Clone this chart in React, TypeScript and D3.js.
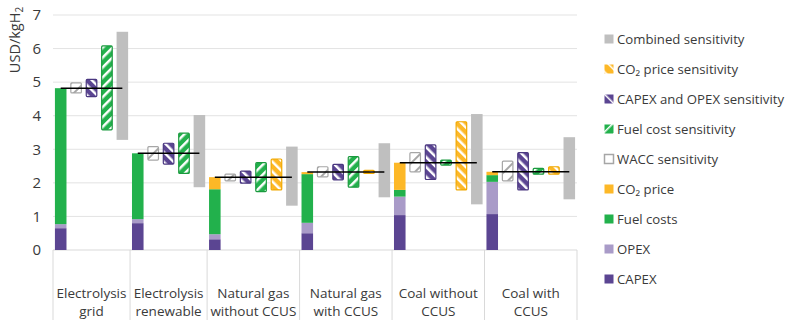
import React from "react";
import * as d3 from "d3";

const categories = ["Electrolysis grid", "Electrolysis renewable", "Natural gas without CCUS", "Natural gas with CCUS", "Coal without CCUS", "Coal with CCUS"];
const categoryLines = [["Electrolysis", "grid"], ["Electrolysis", "renewable"], ["Natural gas", "without CCUS"], ["Natural gas", "with CCUS"], ["Coal without", "CCUS"], ["Coal with", "CCUS"]];

const capex = [0.65, 0.80, 0.32, 0.50, 1.04, 1.07];
const opex = [0.12, 0.12, 0.15, 0.31, 0.55, 0.96];
const fuelCosts = [4.05, 1.96, 1.34, 1.45, 0.20, 0.20];
const co2Price = [0, 0, 0.36, 0.06, 0.81, 0.10];

const waccSens: [number, number][] = [[4.68, 4.98], [2.68, 3.08], [2.06, 2.26], [2.18, 2.48], [2.33, 2.90], [2.06, 2.65]];
const capexOpexSens: [number, number][] = [[4.57, 5.08], [2.56, 3.18], [1.99, 2.35], [2.09, 2.55], [2.10, 3.13], [1.79, 2.90]];
const fuelSens: [number, number][] = [[3.58, 6.08], [2.28, 3.48], [1.74, 2.60], [1.87, 2.78], [2.53, 2.68], [2.26, 2.43]];
const co2Sens: ([number, number] | null)[] = [null, null, [1.79, 2.71], [2.28, 2.37], [1.79, 3.82], [2.26, 2.48]];
const combinedSens: [number, number][] = [[3.28, 6.50], [1.87, 4.02], [1.32, 3.08], [1.57, 3.18], [1.36, 4.05], [1.51, 3.36]];

const yTicks = [0, 1, 2, 3, 4, 5, 6, 7];

const C = {
  capex: "#5B4592",
  opex: "#A99BC8",
  fuel: "#22B14C",
  co2: "#FDB827",
  grey: "#BFBFBF",
  text: "#3A3A3A",
  grid: "#E3E3E3",
};

const FONT = "'Open Sans', 'Noto Sans', sans-serif";

type Slot = { id: string; cat: number; kind: string };

export default function App() {
  const W = 800, H = 330;
  const x0 = 53, x1 = 577;
  const y = d3.scaleLinear().domain([0, 7]).range([250, 15]);

  const slots: Slot[] = [];
  categories.forEach((c, i) => {
    const kinds = ["stack", "wacc", "capexopex", "fuel"];
    if (co2Sens[i]) kinds.push("co2");
    kinds.push("combined");
    kinds.forEach((k) => slots.push({ id: `${i}-${k}`, cat: i, kind: k }));
  });

  const x = d3.scaleBand<string>().domain(slots.map((s) => s.id)).range([x0, x1]).paddingInner(0.25).paddingOuter(0.125);
  const bw = x.bandwidth();
  const step = x.step();

  const catBounds = categories.map((_, i) => {
    const ss = slots.filter((s) => s.cat === i);
    const a = (x(ss[0].id) as number) - step * 0.125;
    const b = (x(ss[ss.length - 1].id) as number) + bw + step * 0.125;
    return [a, b];
  });

  const sensStyle: Record<string, { fill: string; stroke: string }> = {
    wacc: { fill: "url(#hWacc)", stroke: "#A6A6A6" },
    capexopex: { fill: "url(#hPurple)", stroke: "#4A3780" },
    fuel: { fill: "url(#hGreen)", stroke: "#1A9A3E" },
    co2: { fill: "url(#hYellow)", stroke: "#F0A800" },
  };

  const rangeFor = (s: Slot): [number, number] | null => {
    const i = s.cat;
    if (s.kind === "wacc") return waccSens[i];
    if (s.kind === "capexopex") return capexOpexSens[i];
    if (s.kind === "fuel") return fuelSens[i];
    if (s.kind === "co2") return co2Sens[i];
    if (s.kind === "combined") return combinedSens[i];
    return null;
  };

  const legend = [
    { label: "Combined sensitivity", fill: C.grey, stroke: "none" },
    { label: "CO₂ price sensitivity", fill: "url(#lYellow)", stroke: "none" },
    { label: "CAPEX and OPEX sensitivity", fill: "url(#lPurple)", stroke: "none" },
    { label: "Fuel cost sensitivity", fill: "url(#lGreen)", stroke: "none" },
    { label: "WACC sensitivity", fill: "#FFFFFF", stroke: "#A6A6A6" },
    { label: "CO₂ price", fill: C.co2, stroke: "none" },
    { label: "Fuel costs", fill: C.fuel, stroke: "none" },
    { label: "OPEX", fill: C.opex, stroke: "none" },
    { label: "CAPEX", fill: C.capex, stroke: "none" },
  ];

  const pattern = (id: string, bg: string, fg: string, angle: number, size = 7, sw = 2.5) => (
    <pattern id={id} patternUnits="userSpaceOnUse" width={size} height={size} patternTransform={`rotate(${angle})`}>
      <rect width={size} height={size} fill={bg} />
      <rect x={0} y={0} width={sw} height={size} fill={fg} />
    </pattern>
  );

  return (
    <svg width={W} height={H} style={{ position: "absolute", left: 0, top: 0, background: "#fff" }} fontFamily={FONT}>
      <defs>
        {pattern("hGreen", C.fuel, "#FFFFFF", 45)}
        {pattern("hPurple", C.capex, "#FFFFFF", -45)}
        {pattern("hYellow", C.co2, "#FFFFFF", -45)}
        {pattern("hWacc", "#FFFFFF", "#A6A6A6", 45, 9, 2)}
        {pattern("lGreen", C.fuel, "#FFFFFF", 45, 8, 1.5)}
        {pattern("lPurple", C.capex, "#FFFFFF", -45, 8, 1.5)}
        {pattern("lYellow", C.co2, "#FFFFFF", -45, 8, 1.5)}
      </defs>

      {/* gridlines */}
      {yTicks.map((t) => (
        <line key={t} x1={x0} x2={x1} y1={y(t)} y2={y(t)} stroke={t === 0 ? "#D9D9D9" : C.grid} strokeWidth={1} />
      ))}
      {/* y tick labels */}
      {yTicks.map((t) => (
        <text key={"l" + t} x={41} y={y(t)} dy="0.35em" textAnchor="end" fontSize={15} fill={C.text}>{t}</text>
      ))}
      <text transform={`translate(20,40) rotate(-90)`} textAnchor="middle" fontSize={14.5} fill={C.text}>
        USD/kgH<tspan fontSize={10} dy={3}>2</tspan>
      </text>

      {/* category dividers */}
      {[catBounds[0][0], ...catBounds.map((b) => b[1])].map((bx, i) => (
        <line key={"d" + i} x1={bx} x2={bx} y1={250} y2={320} stroke="#D9D9D9" strokeWidth={1} />
      ))}
      {categoryLines.map((lines, i) => {
        const cx = (catBounds[i][0] + catBounds[i][1]) / 2;
        return (
          <text key={"c" + i} x={cx} textAnchor="middle" fontSize={13.5} fill={C.text}>
            {lines.map((ln, j) => (
              <tspan key={j} x={cx} y={298 + j * 18}>{ln}</tspan>
            ))}
          </text>
        );
      })}

      {/* bars */}
      {slots.map((s) => {
        const xp = x(s.id) as number;
        const i = s.cat;
        if (s.kind === "stack") {
          const parts = [
            { v: capex[i], c: C.capex },
            { v: opex[i], c: C.opex },
            { v: fuelCosts[i], c: C.fuel },
            { v: co2Price[i], c: C.co2 },
          ];
          let acc = 0;
          return (
            <g key={s.id}>
              {parts.map((p, k) => {
                const b = acc;
                acc += p.v;
                if (p.v <= 0) return null;
                return <rect key={k} x={xp} width={bw} y={y(acc)} height={y(b) - y(acc)} fill={p.c} />;
              })}
            </g>
          );
        }
        const r = rangeFor(s);
        if (!r) return null;
        if (s.kind === "combined") {
          return <rect key={s.id} x={xp} width={bw} y={y(r[1])} height={y(r[0]) - y(r[1])} fill={C.grey} />;
        }
        const st = sensStyle[s.kind];
        return (
          <rect key={s.id} x={xp + 0.5} width={bw - 1} y={y(r[1])} height={Math.max(1, y(r[0]) - y(r[1]))}
            fill={st.fill} stroke={st.stroke} strokeWidth={1.2} rx={1} />
        );
      })}

      {/* total lines */}
      {categories.map((_, i) => {
        const ss = slots.filter((s) => s.cat === i);
        const total = capex[i] + opex[i] + fuelCosts[i] + co2Price[i];
        const xa = (x(ss[0].id) as number) + bw / 2;
        const xb = (x(ss[ss.length - 1].id) as number) + bw / 2;
        return <line key={"t" + i} x1={xa} x2={xb} y1={y(total)} y2={y(total)} stroke="#000" strokeWidth={1.5} />;
      })}

      {/* legend */}
      {legend.map((l, k) => {
        const ly = 39 + k * 30;
        return (
          <g key={"lg" + k}>
            <rect x={604.5} y={ly - 4.5} width={9} height={9} fill={l.fill} stroke={l.stroke} strokeWidth={l.stroke === "none" ? 0 : 1.5} />
            <text x={617} y={ly} dy="0.35em" fontSize={13.2} fill={C.text}>{l.label}</text>
          </g>
        );
      })}
    </svg>
  );
}
